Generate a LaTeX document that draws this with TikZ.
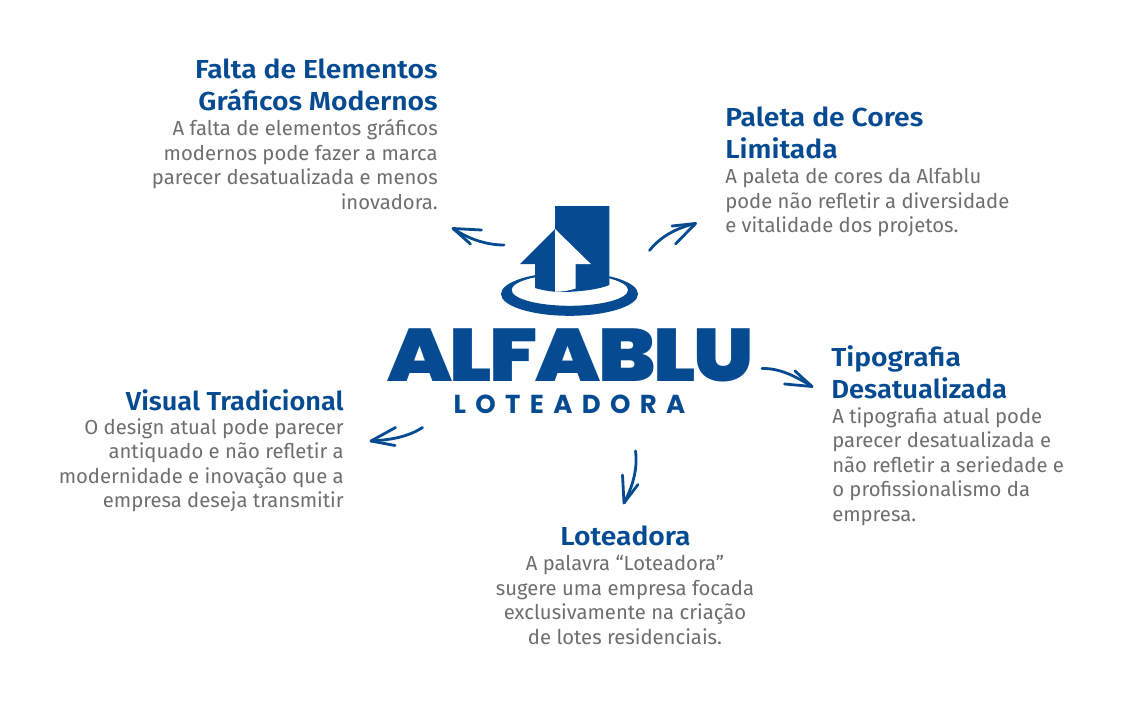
\documentclass[tikz,border=0pt]{standalone}
\usepackage{fontspec}
\setmainfont{Fira Sans}[BoldFont=* SemiBold,BoldFeatures={FakeStretch=1.087}]
\newfontfamily\logofont{Poppins}[UprightFont=* Black,LetterSpace=-3]
\newfontfamily\subfont{Poppins}[UprightFont=* Bold,LetterSpace=36]
\definecolor{ablue}{HTML}{064B92}
\definecolor{agray}{HTML}{6E6E70}
\tikzset{
 titleR/.style={anchor=north east,align=right,inner sep=0pt,text=ablue,font=\fontsize{19.5}{24}\selectfont\bfseries},
 titleL/.style={anchor=north west,align=left,inner sep=0pt,text=ablue,font=\fontsize{19.5}{24}\selectfont\bfseries},
 titleC/.style={anchor=north,align=center,inner sep=0pt,text=ablue,font=\fontsize{19.5}{24}\selectfont\bfseries},
 bodyR/.style={anchor=north east,align=right,inner sep=0pt,text=agray,font=\fontsize{15.2}{18.4}\selectfont},
 bodyL/.style={anchor=north west,align=left,inner sep=0pt,text=agray,font=\fontsize{15.2}{18.4}\selectfont},
 bodyC/.style={anchor=north,align=center,inner sep=0pt,text=agray,font=\fontsize{15.2}{18.4}\selectfont},
 sketch/.style={draw=ablue,line width=2.1pt,line cap=round,line join=round},
}
\begin{document}
\begin{tikzpicture}[x=0.75pt,y=-0.75pt]
\useasboundingbox (0,0) rectangle (1140,724);
\fill[white] (0,0) rectangle (1140,724);
% logo
\fill[ablue,even odd rule] (569.5,294) ellipse [x radius=68.5,y radius=21.8]
  (569.8,290) ellipse [x radius=58.2,y radius=15.8];
\fill[white] (555,229) -- (520,264) -- (535,264) -- (535,288) .. controls (545,291) and (560,292.5) .. (575,292) -- (609,285) -- (609,206) -- (555,206) -- cycle;
\fill[ablue] (555,206) -- (609.3,206) -- (609.3,285) .. controls (600,289) and (585,291) .. (570,291.8) -- (555,291.8) -- cycle;
\fill[ablue] (555,229) -- (520,264) -- (535,264) -- (535,288) .. controls (541,290) and (548,291) .. (555,291.8) -- cycle;
\fill[white] (555,229) -- (590.8,264) -- (575.7,264) -- (575.7,288.5) .. controls (570,290.5) and (562,291.8) .. (555,291.8) -- cycle;
\node[inner sep=0pt,anchor=base,text=ablue] (brand) at (570.5,381.7) {\logofont\fontsize{57}{57}\selectfont\resizebox{275pt}{39.6pt}{ALFABLU}};
\node[inner sep=0pt,anchor=base,text=ablue] (sub) at (569.5,413.3) {\subfont\fontsize{19.5}{20}\selectfont LOTEADORA};
% titles and bodies
\node[titleR] (t1) at (438,58.5) {Falta de Elementos\\Gráficos Modernos};
\node[bodyR] (b1) at (438,119) {A falta de elementos gráficos\\modernos pode fazer a marca\\parecer desatualizada e menos\\inovadora.};
\node[titleL] (t2) at (725,107) {Paleta de Cores\\Limitada};
\node[bodyL] (b2) at (725,168) {A paleta de cores da Alfablu\\pode não refletir a diversidade\\e vitalidade dos projetos.};
\node[titleR] (t3) at (344,389) {\scalebox{0.96}[1]{Visual Tradicional}};
\node[bodyR] (b3) at (344,418) {O design atual pode parecer\\antiquado e não refletir a\\modernidade e inovação que a\\empresa deseja transmitir};
\node[titleL] (t4) at (831,345) {Tipografia\\\scalebox{0.97}[1]{Desatualizada}};
\node[bodyL] (b4) at (832,407) {A tipografia atual pode\\parecer desatualizada e\\não refletir a seriedade e\\o profissionalismo da\\empresa.};
\node[titleC] (t5) at (625.5,526) {Loteadora};
\node[bodyC] (b5) at (625,555) {A palavra “Loteadora”\\sugere uma empresa focada\\exclusivamente na criação\\de lotes residenciais.};
% arrows
\coordinate (a1s) at (504,245); \coordinate (a1t) at (453,228.5); \coordinate (a1u) at (481.5,230); \coordinate (a1v) at (470.5,244);
\draw[sketch] (a1s) .. controls (488,245) and (470,240) .. (a1t);
\draw[sketch] (a1u) -- (a1t) -- (a1v);
\coordinate (a2s) at (422.5,427.5); \coordinate (a2t) at (371,441); \coordinate (a2u) at (395.5,427.5); \coordinate (a2v) at (395,445.5);
\draw[sketch] (a2s) .. controls (408,437) and (390,440) .. (a2t);
\draw[sketch] (a2u) -- (a2t) -- (a2v);
\coordinate (a3s) at (649.5,250.5); \coordinate (a3t) at (695.5,223.5); \coordinate (a3u) at (672,226); \coordinate (a3v) at (675.5,244);
\draw[sketch] (a3s) .. controls (660,237) and (676,228) .. (a3t);
\draw[sketch] (a3u) -- (a3t) -- (a3v);
\coordinate (a4s) at (762,368.5); \coordinate (a4t) at (812,386.5); \coordinate (a4u) at (795,371); \coordinate (a4v) at (784.5,384);
\draw[sketch] (a4s) .. controls (780,368) and (797,377) .. (a4t);
\draw[sketch] (a4u) -- (a4t) -- (a4v);
\coordinate (a5s) at (635.5,451); \coordinate (a5t) at (624,503); \coordinate (a5u) at (622.5,475); \coordinate (a5v) at (638,484.5);
\draw[sketch] (a5s) .. controls (638,470) and (632,488) .. (a5t);
\draw[sketch] (a5u) -- (a5t) -- (a5v);
\end{tikzpicture}
\end{document}
